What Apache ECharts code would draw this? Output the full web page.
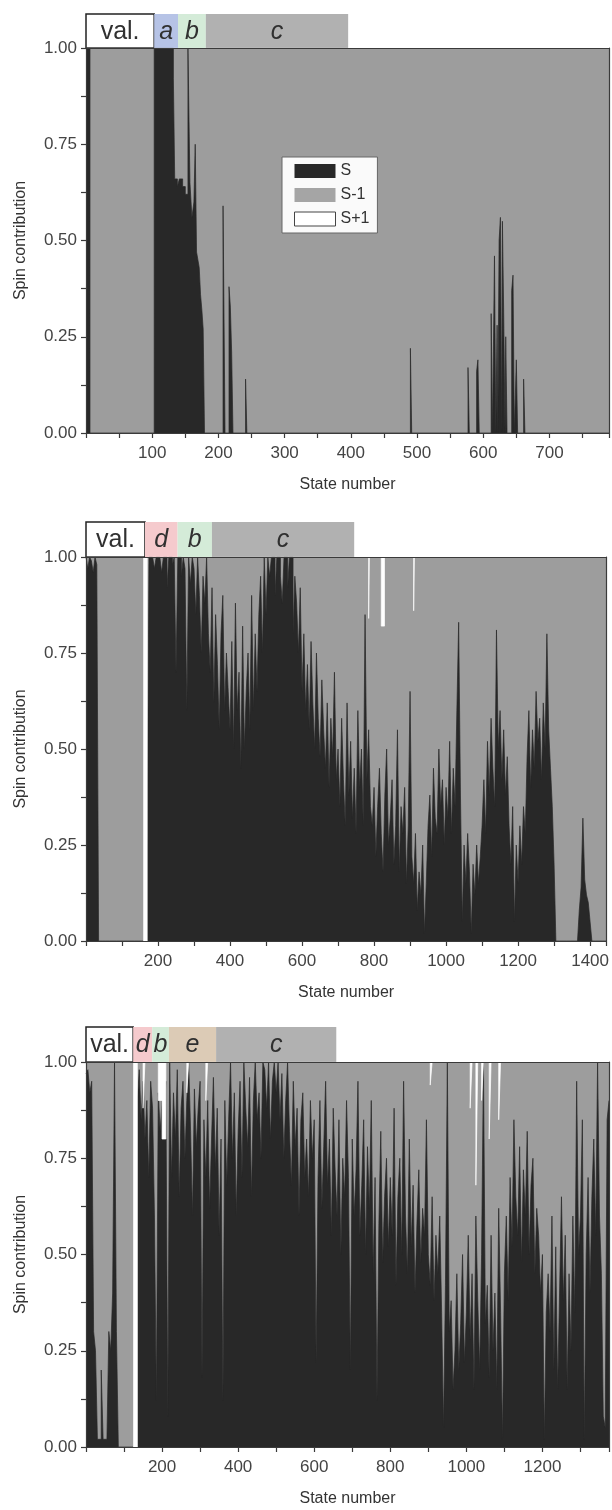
<!DOCTYPE html>
<html><head><meta charset="utf-8">
<script src="https://cdn.jsdelivr.net/npm/echarts@6/dist/echarts.min.js"></script>
<style>html,body{margin:0;padding:0;background:#fff}#c{width:612px;height:1510px}</style>
</head><body><div id="c"></div>
<script>
// ---------- Panel 1 (breakpoints: value holds from state onward) ----------
const p1State = [0,6,103,132,134,138,141,146,150,154,157,160,163,165,167,169,171,173,175,177,179,
  207,210,216,218,220,222,241,243,490,492,577,579,590,592,594,
  612,614,617,619,621,622,624,626,628,629,631,633,634,636,643,645,647,650,652,661,663,790];
const p1S = [1,0,1,0.92,0.66,0.64,0.66,0.64,0.62,1,0.65,0.56,0.6,0.75,0.47,0.45,0.43,0.36,0.32,0.27,0,
  0.59,0,0.38,0.33,0.21,0,0.14,0,0.22,0,0.17,0,0.16,0.19,0,
  0.31,0,0.46,0,0.28,0,0.5,0.56,0,0.55,0.3,0,0.25,0,0.37,0.41,0,0.19,0,0.14,0,0];
const p1SpState = [0,790];
const p1Sp = [0,0];

// ---------- Panel 2 (S every 5 states, from state 0) ----------
const p2Step = 5;
const p2S = [
 1,0.97,1,0.99,0.96,1,0.98,0,0,0,0,0,0,0,0,0,0,0,0,0,
 0,0,0,0,0,0,0,0,0,0,0,0,0,0,0.28,1,1,1,0.97,1,
 1,1,0.96,1,1,0.92,1,1,0.98,1,0.7,1,1,0.95,1,0.97,0.6,1,0.93,1,
 0.97,0.85,1,0.9,0.75,0.95,0.88,1,0.8,0.7,0.92,0.62,0.85,0.72,0.55,0.8,0.9,0.6,0.75,0.65,
 0.55,0.78,0.5,0.88,0.6,0.7,0.45,0.82,0.5,0.65,0.75,0.55,0.9,0.6,0.8,0.65,0.85,0.95,0.75,1,
 0.85,1,0.95,1,1,0.9,1,1,0.95,0.88,1,1,0.92,1,1,0.8,0.95,0.88,0.75,0.92,
 0.65,0.8,0.6,0.72,0.55,0.78,0.62,0.5,0.75,0.58,0.48,0.68,0.55,0.45,0.62,0.4,0.58,0.48,0.7,0.42,
 0.5,0.35,0.58,0.42,0.3,0.62,0.38,0.52,0.32,0.45,0.28,0.6,0.4,0.5,0.3,0.85,0.42,0.55,0.35,0.3,
 0.4,0.22,0.35,0.45,0.28,0.18,0.38,0.5,0.25,0.32,0.42,0.2,0.3,0.55,0.18,0.35,0.28,0.4,0.15,0.3,
 0.65,0.22,0.15,0.28,0.08,0.18,0.12,0.25,0.02,0.15,0.3,0.38,0.22,0.45,0.32,0.28,0.5,0.35,0.42,0.25,
 0.4,0.32,0.52,0.28,0.45,0.35,0.6,0.83,0.38,0.05,0.25,0.15,0.28,0.18,0.02,0.2,0.12,0.25,0.15,0.22,
 0.3,0.42,0.28,0.52,0.38,0.58,0.45,0.35,0.81,0.5,0.6,0.42,0.55,0.38,0.48,0.3,0.2,0.35,0.05,0.25,
 0.15,0.3,0.2,0.35,0.28,0.48,0.6,0.4,0.55,0.45,0.65,0.52,0.58,0.42,0.62,0.5,0.8,0.55,0.45,0.35,
 0.2,0,0,0,0,0,0,0,0,0,0,0,0,0,0.08,0.14,0.32,0.16,0.12,0.1,
 0.05,0,0,0,0,0,0,0,0,0];
const p2SpState = [0,160,170,785,787,820,829,910,912,1445];
const p2Sp = [0,1,0,0.16,0,0.18,0,0.14,0,0];

// ---------- Panel 3 (S every 5 states, from state 0) ----------
const p3Step = 5;
const p3S = [
 0.97,0.98,0.92,0.95,0.3,0.25,0.02,0.02,0.2,0.02,0.02,0.02,0.3,0.25,0.4,1,0.3,0,0,0,
 0,0,0,0,0,0,0,0.9,0.98,0.85,0.95,0.8,0.9,0.7,0.95,0.88,0.6,0.12,0.92,0.82,
 0.9,0.85,0.95,0.08,1,0.7,0.92,0.8,0.98,0.65,0.88,0.95,0.75,0.9,1,0.82,0.6,0.93,0.78,0.88,
 0.95,0.18,0.85,0.7,0.9,0.62,0.8,0.96,0.72,0.88,0.55,0.8,0.12,0.9,0.68,0.85,1,0.75,0.92,0.6,
 0.82,0.95,0.7,1,0.88,0.78,0.96,0.65,0.9,1,0.85,0.92,0.75,1,0.98,0.88,1,0.8,0.95,1,
 0.92,1,0.85,0.97,0.75,0.9,1,0.82,0.68,0.95,0.78,0.88,0.6,0.85,0.92,0.7,0.8,0.65,0.9,0.75,
 0.85,0.22,0.7,0.9,0.62,0.78,0.95,0.68,0.8,0.55,0.88,0.72,0.6,0.85,0.5,0.75,0.65,0.9,0.7,0.2,
 0.8,0.6,0.72,0.95,0.55,0.68,0.85,0.5,0.78,0.62,0.9,0.45,0.7,0.12,0.58,0.82,0.48,0.65,0.75,0.52,
 0.7,0.55,0.88,0.42,0.65,0.75,0.5,0.95,0.6,0.45,0.8,0.52,0.68,0.4,0.58,0.72,0.48,0.62,0.55,0.85,
 0.5,0.42,0.65,0.38,0.55,0.45,0.6,0.35,0.05,0.42,1,0.3,0.38,0.15,0.25,0.45,0.2,0.32,0.5,0.22,
 0.35,0.55,0.28,0.45,0.15,0.6,0.38,0.2,0.5,1,0.32,0.42,0.18,0.55,0.25,0.4,0.15,0.62,0.35,0.02,
 0.45,0.6,0.38,0.7,0.52,0.85,0.65,0.55,0.78,0.48,0.72,0.6,0.82,0.5,0.68,0.75,0.45,0.62,0.55,0.4,
 0.5,0.02,0.35,0.45,0.3,0.6,0.2,0.52,0.15,0.4,0.65,0.38,0.55,0.15,0.45,0.25,0.6,0.35,0.95,0.5,
 0.6,0.85,0.02,0.5,0.7,0.4,0.65,0.8,0.55,1,0.6,0.45,0.08,0.05,0.85,0.9];
const p3SpState = [0,125,135,150,155,190,200,210,265,270,315,320,905,910,1010,1015,1025,1030,1040,1045,1060,1065,1085,1090,1375];
const p3Sp = [0,1,0,0.12,0,0.1,0.2,0,0.08,0,0.1,0,0.06,0,0.12,0,0.32,0,0.1,0,0.2,0,0.15,0,0];

// ---------- Region labels above each panel ----------
const ann1Labels = ['val.','a','b','c'];
const ann1Ranges = [[0,103],[103,139],[139,181],[181,396]];
const ann2Labels = ['val.','d','b','c'];
const ann2Ranges = [[0,163],[163,253],[253,348],[348,741]];
const ann3Labels = ['val.','d','b','e','c'];
const ann3Ranges = [[0,124],[124,174],[174,218],[218,342],[342,658]];

const xMax = [790, 1445, 1375];
const xInterval = [50, 100, 100];
const xLabelEvery = [100, 200, 200];
const yTicks = [0, 0.25, 0.5, 0.75, 1];
</script>
<script>
const BLACK = '#282828', GRAY = '#9d9d9d', AX = '#3a3a3a';
const FONT = '"Liberation Sans", Arial, Helvetica, sans-serif';
const regionColor = {'val.':'#ffffff', a:'#b6c3e6', b:'#d4ebd8', c:'#b1b1b1', d:'#f5cacd', e:'#dccbb6'};
const pair = (xs, ys) => xs.map((x, i) => [x, ys[i]]);
const stepStates = (arr, step) => arr.map((_, i) => i * step);

const panels = [
  {S: pair(p1State, p1S), Sp: pair(p1SpState, p1Sp.map(v => 1 - v)), labels: ann1Labels, ranges: ann1Ranges, top: 48, h: 385, atop: 14, ah: 34},
  {S: pair(stepStates(p2S, p2Step), p2S), Sp: pair(p2SpState, p2Sp.map(v => 1 - v)), labels: ann2Labels, ranges: ann2Ranges, top: 557, h: 384, atop: 522, ah: 35},
  {S: pair(stepStates(p3S, p3Step), p3S), Sp: pair(p3SpState, p3Sp.map(v => 1 - v)), labels: ann3Labels, ranges: ann3Ranges, top: 1062, h: 385, atop: 1027, ah: 35}
];

const grid = [], xAxis = [], yAxis = [], series = [];
panels.forEach((p, k) => {
  grid.push({left: 86, width: 523, top: p.top, height: p.h, show: true, backgroundColor: GRAY, borderWidth: 0});
});
panels.forEach((p, k) => {
  grid.push({left: 86, width: 523, top: p.atop, height: p.ah, show: false});
});
panels.forEach((p, k) => {
  xAxis.push({type: 'value', gridIndex: k, min: 0, max: xMax[k], interval: xInterval[k], z: 10,
    name: 'State number', nameLocation: 'middle', nameGap: 44,
    nameTextStyle: {fontSize: 16, color: '#333', fontFamily: FONT},
    axisLine: {show: true, onZero: false, lineStyle: {color: AX, width: 1.2}},
    axisTick: {show: true, inside: false, length: 5, lineStyle: {color: AX, width: 1.2}},
    axisLabel: {fontSize: 17, color: '#444', fontFamily: FONT, margin: 12, showMinLabel: true, showMaxLabel: true,
      formatter: v => (v > 0 && v % xLabelEvery[k] === 0) ? String(v) : ''},
    splitLine: {show: false}});
  yAxis.push({type: 'value', gridIndex: k, min: 0, max: 1, interval: 0.125, z: 10,
    name: 'Spin contribution', nameLocation: 'middle', nameGap: 57, nameRotate: 90,
    nameTextStyle: {fontSize: 16, color: '#333', fontFamily: FONT},
    axisLine: {show: true, lineStyle: {color: AX, width: 1.2}},
    axisTick: {show: true, inside: false, length: 5, lineStyle: {color: AX, width: 1.2}},
    axisLabel: {fontSize: 17, color: '#444', fontFamily: FONT, margin: 9,
      formatter: v => yTicks.some(t => Math.abs(t - v) < 1e-6) ? v.toFixed(2) : ''},
    splitLine: {show: false}});
});
panels.forEach((p, k) => {
  xAxis.push({type: 'value', gridIndex: 3 + k, min: 0, max: xMax[k], show: false});
  yAxis.push({type: 'value', gridIndex: 3 + k, min: 0, max: 1, show: false});
});
panels.forEach((p, k) => {
  xAxis.push({type: 'value', gridIndex: k, position: 'top', min: 0, max: xMax[k], z: 10,
    axisLine: {show: true, onZero: false, lineStyle: {color: AX, width: 1.2}}, axisTick: {show: false}, axisLabel: {show: false}, splitLine: {show: false}});
  yAxis.push({type: 'value', gridIndex: k, position: 'right', min: 0, max: 1, z: 10,
    axisLine: {show: true, onZero: false, lineStyle: {color: AX, width: 1.2}}, axisTick: {show: false}, axisLabel: {show: false}, splitLine: {show: false}});
});

panels.forEach((p, k) => {
  series.push({type: 'line', name: 'S', xAxisIndex: k, yAxisIndex: k, step: 'end', data: p.S,
    symbol: 'none', silent: true, animation: false, z: 2,
    lineStyle: {color: BLACK, width: 0.7}, areaStyle: {color: BLACK, opacity: 1, origin: 'start'}});
  series.push({type: 'line', name: 'S+1', xAxisIndex: k, yAxisIndex: k, step: 'end', data: p.Sp,
    symbol: 'none', silent: true, animation: false, z: 3, color: '#ffffff',
    lineStyle: {color: '#ffffff', width: 0.7}, areaStyle: {color: '#ffffff', opacity: 1, origin: 'end'}});
  series.push({type: 'custom', xAxisIndex: 3 + k, yAxisIndex: 3 + k, silent: true, animation: false,
    data: p.ranges.map((r, i) => [r[0], r[1], i]),
    encode: {x: [0, 1]},
    renderItem: (params, api) => {
      const i = api.value(2);
      const lab = p.labels[i];
      const a = api.coord([api.value(0), 0]);
      const b = api.coord([api.value(1), 1]);
      const isVal = lab === 'val.';
      return {type: 'group', children: [
        {type: 'rect', shape: {x: a[0], y: b[1], width: b[0] - a[0], height: a[1] - b[1]},
          style: {fill: regionColor[lab], stroke: isVal ? '#222' : null, lineWidth: isVal ? 1.5 : 0}},
        {type: 'text', style: {text: lab, x: (a[0] + b[0]) / 2, y: (a[1] + b[1]) / 2 + 1,
          align: 'center', verticalAlign: 'middle', fontSize: 25, fontFamily: FONT,
          fontStyle: isVal ? 'normal' : 'italic', fill: '#303030'}}
      ]};
    }});
});
series.push({type: 'line', name: 'S-1', xAxisIndex: 0, yAxisIndex: 0, data: [], color: '#a5a5a5'});

const chart = echarts.init(document.getElementById('c'), null, {renderer: 'canvas'});
chart.setOption({
  animation: false,
  grid, xAxis, yAxis, series,
  legend: {
    data: [
      {name: 'S', icon: 'rect', itemStyle: {color: BLACK}},
      {name: 'S-1', icon: 'rect', itemStyle: {color: '#a5a5a5'}},
      {name: 'S+1', icon: 'rect', itemStyle: {color: '#ffffff', borderColor: '#444', borderWidth: 1}}
    ],
    orient: 'vertical', left: 282, top: 157, itemWidth: 41, itemHeight: 14, itemGap: 8,
    padding: [6, 8, 6, 12], backgroundColor: '#fafafa', borderColor: '#666', borderWidth: 1,
    selectedMode: false, textStyle: {fontSize: 16, color: '#333', fontFamily: FONT}
  }
});
</script>
</body></html>
